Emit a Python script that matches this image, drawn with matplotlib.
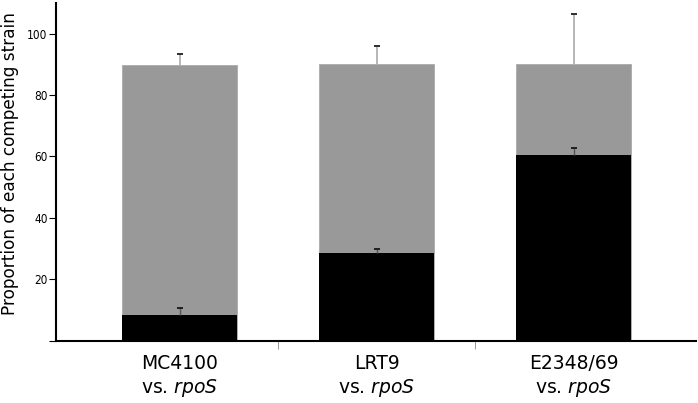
import numpy as np
import matplotlib
matplotlib.use('Agg')
import matplotlib.pyplot as plt

strains = ["MC4100", "LRT9", "E2348/69"]
total = [89.8, 90.0, 90.1]          # grey bars (whole population)
total_err = [3.4, 5.8, 16.1]
wild = [8.3, 28.4, 60.3]            # black bars (wild type share)
wild_err = [2.4, 1.3, 2.4]
yticks = [0, 20, 40, 60, 80, 100]

plt.rcParams['mathtext.fontset'] = 'dejavusans'

fig = plt.figure(figsize=(6.98, 4.03), dpi=100)
ax = fig.add_axes([0.0802, 0.155, 0.917, 0.838])

x = np.arange(len(strains))
w = 0.584

ax.bar(x, total, width=w, color='#999999', edgecolor='#aaaaaa', linewidth=0.6, zorder=2)
ax.errorbar(x, total, yerr=[np.zeros(3), total_err], fmt='none',
            ecolor='#aaaaaa', elinewidth=1.2, capsize=0, zorder=3)
ax.errorbar(x, np.array(total) + np.array(total_err), yerr=0, fmt='none',
            ecolor='#333333', capsize=2, capthick=1.4, zorder=4)

ax.bar(x, wild, width=w, color='black', zorder=5)
ax.errorbar(x, wild, yerr=[np.zeros(3), wild_err], fmt='none',
            ecolor='#555555', elinewidth=1.0, capsize=0, zorder=6)
ax.errorbar(x, np.array(wild) + np.array(wild_err), yerr=0, fmt='none',
            ecolor='#222222', capsize=2, capthick=1.4, zorder=7)

ax.set_xlim(-0.627, 2.62)
ax.set_ylim(0, 110)

ax.spines['top'].set_visible(False)
ax.spines['right'].set_visible(False)
ax.spines['left'].set_linewidth(1.5)
ax.spines['bottom'].set_linewidth(1.5)

ax.set_yticks(yticks)
ax.set_yticklabels([''] + [str(v) for v in yticks[1:]],
                   family='DejaVu Sans', stretch='condensed', fontsize=8.5)
ax.tick_params(axis='y', length=5, width=0.8, pad=1)

# group labels sit under the bars, ticks sit between groups
ax.set_xticks([0.5, 1.5])
ax.set_xticklabels([])
ax.tick_params(axis='x', length=6, width=0.6, color='#888888')
for xi, name in zip(x, strains):
    ax.text(xi, -9.3, name, ha='center', va='baseline', fontsize=13.5)
    ax.text(xi, -17.2, r'vs. $\it{rpoS}$', ha='center', va='baseline', fontsize=13.5)

ax.set_ylabel("Proportion of each competing strain", fontsize=12.2)
ax.yaxis.set_label_coords(-0.058, 0.525)

fig.savefig('out.png', dpi=100)
